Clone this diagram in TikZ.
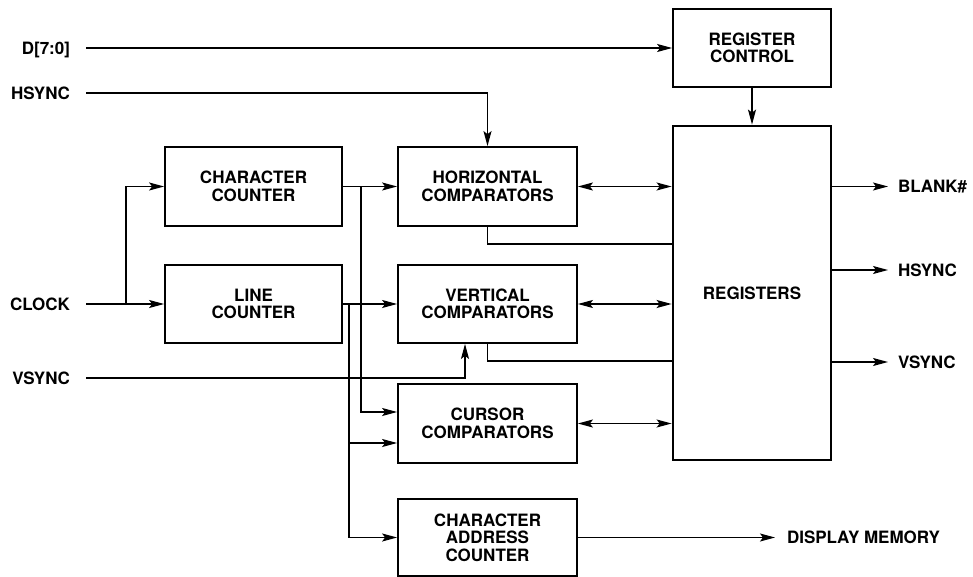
\documentclass[tikz,border=0pt]{standalone}
\usepackage{fontspec}
\setmainfont{TeX Gyre Heros}
\usetikzlibrary{arrows.meta}
\begin{document}
\begin{tikzpicture}[x=1pt,y=-1pt,
  ah/.tip={Stealth[length=15pt,width=8pt,inset=3pt]},
  lbl/.style={font=\fontsize{17}{17.5}\selectfont\bfseries},
  blk/.style={lbl, draw, line width=1.8pt, align=center, inner sep=0pt},
  sig/.style={lbl, inner sep=0pt, text height=12.2pt, text depth=0pt},
  wire/.style={line width=1.2pt},
  arr/.style={wire, -ah},
  barr/.style={wire, ah-ah}]
\useasboundingbox (0,0) rectangle (973,577);

% functional blocks
\node[blk, minimum width=177pt, minimum height=79pt] (charc) at (253.5,186.5) {CHARACTER\\COUNTER};
\node[blk, minimum width=177pt, minimum height=78pt] (linec) at (253.5,304) {LINE\\COUNTER};
\node[blk, minimum width=179pt, minimum height=79pt] (horiz) at (487.5,186.5) {HORIZONTAL\\COMPARATORS};
\node[blk, minimum width=179pt, minimum height=78pt] (vert) at (487.5,304) {VERTICAL\\COMPARATORS};
\node[blk, minimum width=179pt, minimum height=79pt] (cursor) at (487.5,423.5) {CURSOR\\COMPARATORS};
\node[blk, minimum width=179pt, minimum height=77pt] (addr) at (487.5,537.5) {CHARACTER\\ADDRESS\\COUNTER};
\node[blk, minimum width=158pt, minimum height=78pt] (regctl) at (752,48) {REGISTER\\CONTROL};
\node[blk, line width=2.8pt, minimum width=158pt, minimum height=334pt] (regs) at (752,293) {REGISTERS};

% input signals
\node[sig, anchor=east, outer xsep=16pt] (dlab) at (86,48) {D[7:0]};
\node[sig, anchor=east, outer xsep=16pt] (hlab) at (86,93) {HSYNC};
\node[sig, anchor=east, outer xsep=16pt] (clab) at (86,304) {CLOCK};
\node[sig, anchor=east, outer xsep=16pt] (vlab) at (86,378) {VSYNC};

% output signals
\node[sig, anchor=west, outer xsep=10pt] (blank) at (888,186.5) {BLANK\#};
\node[sig, anchor=west, outer xsep=10pt] (hout) at (888,270) {HSYNC};
\node[sig, anchor=west, outer xsep=10pt] (vout) at (888,362) {VSYNC};
\node[sig, anchor=west, outer xsep=12pt] (dmem) at (775,537.5) {DISPLAY MEMORY};

% branch points
\coordinate (ck) at (126,304);
\coordinate (cj) at (361,186.5);
\coordinate (lj) at (349,304);
\coordinate (hfb) at (0,244);
\coordinate (vfb) at (0,361);

% data and sync inputs
\draw[arr] (dlab) -- (regctl);
\draw[arr] (hlab) -| (horiz.north);
\draw[arr] (vlab) -| ([xshift=-22.5pt]vert.south);

% clock distribution
\draw[arr] (clab) -- (linec.west);
\draw[arr] (ck) |- (charc.west);

% counter outputs
\draw[arr] (charc.east) -- (horiz.west);
\draw[arr] (cj) |- ([yshift=11.5pt]cursor.west);
\draw[arr] (linec.east) -- (vert.west);
\draw[arr] (lj) |- ([yshift=-19.5pt]cursor.west);
\draw[arr] (lj) |- (addr.west);

% comparators and registers
\draw[barr] (horiz.east) -- (horiz.east -| regs.west);
\draw[barr] (vert.east) -- (vert.east -| regs.west);
\draw[barr] (cursor.east) -- (cursor.east -| regs.west);
\draw[wire] (horiz.south) |- (hfb -| regs.west);
\draw[wire] (vert.south) |- (vfb -| regs.west);
\draw[arr] (regctl) -- (regs);

% outputs
\draw[arr] (regs.east |- blank) -- (blank);
\draw[arr] (regs.east |- hout) -- (hout);
\draw[arr] (regs.east |- vout) -- (vout);
\draw[arr] (addr) -- (dmem);
\end{tikzpicture}
\end{document}
